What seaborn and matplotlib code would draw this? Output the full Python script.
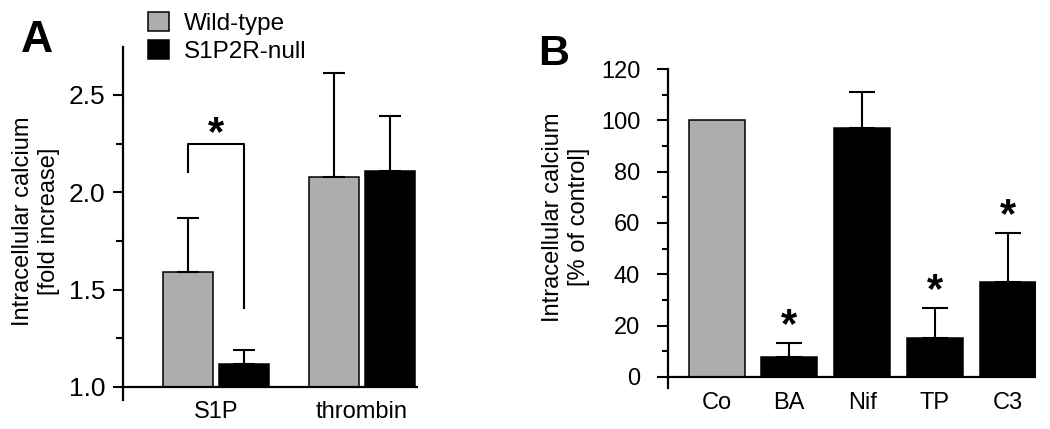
import numpy as np
import pandas as pd
import matplotlib
matplotlib.use('Agg')
from matplotlib import pyplot as plt
from matplotlib.patches import Patch
import seaborn as sns

# panel A data
stimuli = ['S1P', 'thrombin']
genotypes = ['Wild-type', 'S1P2R-null']
wt_mean = [1.59, 2.08]
wt_err = [0.28, 0.53]
null_mean = [1.12, 2.11]
null_err = [0.07, 0.28]
bracket_y = [2.10, 2.25, 1.40]   # left foot, top, right foot
star_a_y = 2.30

# panel B data
treatments = ['Co', 'BA', 'Nif', 'TP', 'C3']
pct_mean = [100, 7.8, 97, 15.2, 37]
pct_err = [0, 5.5, 14, 11.6, 19]
signif = [False, True, False, True, True]

gray = '#adadad'

sns.set_theme(style='white')
plt.rcParams['font.family'] = ['Liberation Sans', 'DejaVu Sans']
plt.rcParams['text.color'] = 'black'
plt.rcParams['axes.labelcolor'] = 'black'
plt.rcParams['xtick.color'] = 'black'
plt.rcParams['ytick.color'] = 'black'

fig = plt.figure(figsize=(10.5, 4.29), dpi=100)
axA = fig.add_axes([0.11714, 0.06760, 0.28095, 0.82284])
axB = fig.add_axes([0.63619, 0.09557, 0.35048, 0.74359])

# ---------- A ----------
dfA = pd.DataFrame({
    'stim': stimuli * 2,
    'geno': [genotypes[0]] * 2 + [genotypes[1]] * 2,
    'val': wt_mean + null_mean,
    'err': wt_err + null_err,
})
sns.barplot(data=dfA, x='stim', y='val', hue='geno', hue_order=genotypes,
            palette=[gray, 'black'], width=0.76, gap=0.1, edgecolor='black',
            linewidth=1.1, legend=False, ax=axA, errorbar=None)

centers = {}
for cont, g in zip(axA.containers, genotypes):
    for bar, s in zip(cont, stimuli):
        xc = bar.get_x() + bar.get_width() / 2
        centers[(s, g)] = xc
        row = dfA[(dfA.stim == s) & (dfA.geno == g)].iloc[0]
        axA.errorbar(xc, row.val, yerr=[[0], [row.err]], fmt='none',
                     ecolor='black', elinewidth=1.5, capsize=8, capthick=1.5,
                     zorder=1)

# bars sit on 1.0
for bar in axA.patches:
    h = bar.get_height()
    bar.set_y(1.0)
    bar.set_height(h - 1.0)

xl = centers[('S1P', 'Wild-type')]
xr = centers[('S1P', 'S1P2R-null')]
axA.plot([xl, xl, xr, xr], [bracket_y[0], bracket_y[1], bracket_y[1], bracket_y[2]],
         color='black', lw=1.5, solid_capstyle='butt')
axA.text((xl + xr) / 2, star_a_y, '*', ha='center', va='center',
         fontsize=30, fontweight='bold')

axA.axhline(1.0, color='black', lw=1.6, zorder=3)
axA.set_xlim(-0.637, 1.384)
axA.set_ylim(0.933, 2.746)
axA.set_yticks([1.0, 1.5, 2.0, 2.5])
axA.set_yticks([1.25, 1.75, 2.25], minor=True)
axA.set_yticklabels(['1.0', '1.5', '2.0', '2.5'])
axA.tick_params(axis='y', which='major', length=7.2, width=1.5, pad=5.5,
                labelsize=19, left=True)
axA.tick_params(axis='y', which='minor', length=4.8, width=1.5, left=True)
axA.tick_params(axis='x', length=0, pad=1, labelsize=17)
axA.set_xlabel('')
axA.set_ylabel('')
for sp in ['top', 'right', 'bottom']:
    axA.spines[sp].set_visible(False)
axA.spines['left'].set_color('black')
axA.spines['left'].set_linewidth(1.6)
axA.set_facecolor('none')

handles = [Patch(facecolor=gray, edgecolor='black', linewidth=1.1),
           Patch(facecolor='black', edgecolor='black', linewidth=1.1)]
fig.legend(handles, genotypes, loc='upper left', bbox_to_anchor=(148 / 1050, 1 - 12 / 429),
           frameon=False, fontsize=17.5, handlelength=0.86, handleheight=0.82,
           handletextpad=0.6, labelspacing=0.2, borderpad=0, borderaxespad=0)

fig.text(36 / 1050, 1 - 221 / 429, 'Intracellular calcium\n[fold increase]',
         rotation=90, ha='center', va='center', multialignment='center', fontsize=17)
fig.text(21 / 1050, 1 - 52 / 429, 'A', fontsize=32, fontweight='bold', va='baseline')

# ---------- B ----------
dfB = pd.DataFrame({'treat': treatments, 'val': pct_mean, 'err': pct_err})
sns.barplot(data=dfB, x='treat', y='val', hue='treat',
            palette=[gray] + ['black'] * 4, width=0.77, edgecolor='black',
            linewidth=1.1, legend=False, ax=axB, errorbar=None)

for i, bar in enumerate(axB.patches):
    xc = bar.get_x() + bar.get_width() / 2
    if pct_err[i] > 0:
        axB.errorbar(xc, pct_mean[i], yerr=[[0], [pct_err[i]]], fmt='none',
                     ecolor='black', elinewidth=1.5, capsize=9.6, capthick=1.5,
                     zorder=1)
    if signif[i]:
        axB.text(xc, pct_mean[i] + pct_err[i] + 6.5, '*', ha='center', va='center',
                 fontsize=30, fontweight='bold')

axB.axhline(0, color='black', lw=1.6, zorder=3)
axB.set_xlim(-0.667, 4.39)
axB.set_ylim(-4.3, 120)
axB.set_yticks(np.arange(0, 121, 20))
axB.set_yticks(np.arange(10, 111, 20), minor=True)
axB.tick_params(axis='y', which='major', length=8, width=1.5, pad=12,
                labelsize=17, left=True)
axB.tick_params(axis='y', which='minor', length=4.3, width=1.5, left=True)
axB.tick_params(axis='x', length=0, pad=3, labelsize=17)
axB.set_xlabel('')
axB.set_ylabel('')
for sp in ['top', 'right', 'bottom']:
    axB.spines[sp].set_visible(False)
axB.spines['left'].set_color('black')
axB.spines['left'].set_linewidth(1.6)
axB.set_facecolor('none')

fig.text(566 / 1050, 1 - 217 / 429, 'Intracellular calcium\n[% of control]',
         rotation=90, ha='center', va='center', multialignment='center', fontsize=17)
fig.text(538 / 1050, 1 - 65 / 429, 'B', fontsize=31, fontweight='bold', va='baseline')

fig.savefig('out.png', dpi=100)
